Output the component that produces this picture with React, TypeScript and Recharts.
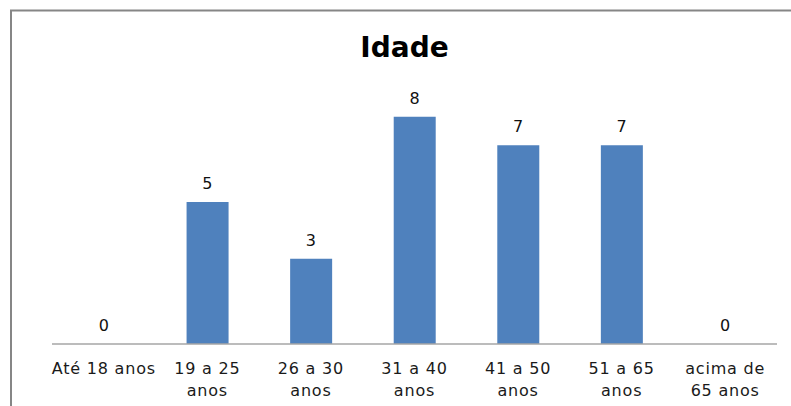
import React from "react";
import { ComposedChart, Bar, Line, XAxis, YAxis, LabelList } from "recharts";

/* ─── Idade: respondents by age bracket ─── */
const categories = [
  "Até 18 anos",
  "19 a 25 anos",
  "26 a 30 anos",
  "31 a 40 anos",
  "41 a 50 anos",
  "51 a 65 anos",
  "acima de 65 anos",
];
const counts = [0, 5, 3, 8, 7, 7, 0];
const tickLines = [
  ["Até 18 anos"],
  ["19 a 25", "anos"],
  ["26 a 30", "anos"],
  ["31 a 40", "anos"],
  ["41 a 50", "anos"],
  ["51 a 65", "anos"],
  ["acima de", "65 anos"],
];

const data = categories.map((name, i) => ({ name, value: counts[i] }));

const FONT = "'DejaVu Sans', sans-serif";
const W = 791;
const H = 406;

function AgeTick(props: any) {
  const { x, y, payload } = props;
  const idx = categories.indexOf(payload.value);
  const lines = idx >= 0 ? tickLines[idx] : [payload.value];
  return (
    <g>
      {lines.map((ln: string, i: number) => (
        <text
          key={i}
          x={x}
          y={y + 30 + i * 22}
          textAnchor="middle"
          fontFamily={FONT}
          fontSize={16}
          letterSpacing={0.8}
          fill="#1a1a1a"
        >
          {ln}
        </text>
      ))}
    </g>
  );
}

export default function App() {
  return (
    <div style={{ position: "absolute", left: 0, top: 0, width: W, height: H, overflow: "hidden", background: "#fff" }}>
      <ComposedChart width={W} height={H} data={data} margin={{ top: 60, right: 14, left: 52, bottom: 0 }}>
        <XAxis
          dataKey="name"
          interval={0}
          height={62}
          tickSize={0}
          tickMargin={0}
          tickLine={false}
          axisLine={{ stroke: "#a6a6a6", strokeWidth: 1.5 }}
          tick={<AgeTick />}
        />
        <YAxis hide domain={[0, 10]} />
        <Bar dataKey="value" fill="#4f81bd" barSize={42} isAnimationActive={false} />
        {/* invisible series so that the zero values also get their labels */}
        <Line
          dataKey="value"
          stroke="none"
          dot={false}
          activeDot={false}
          legendType="none"
          isAnimationActive={false}
        >
          <LabelList
            dataKey="value"
            position="top"
            offset={13}
            fontFamily={FONT}
            fontSize={16}
            fill="#111"
          />
        </Line>
      </ComposedChart>
      <svg
        width={W}
        height={H}
        style={{ position: "absolute", left: 0, top: 0, pointerEvents: "none" }}
      >
        <rect x={11} y={10.5} width={900} height={600} fill="none" stroke="#868686" strokeWidth={2} />
        <text x={404.5} y={57} textAnchor="middle" fontFamily={FONT} fontSize={28} fontWeight="bold" fill="#000">
          Idade
        </text>
      </svg>
    </div>
  );
}
